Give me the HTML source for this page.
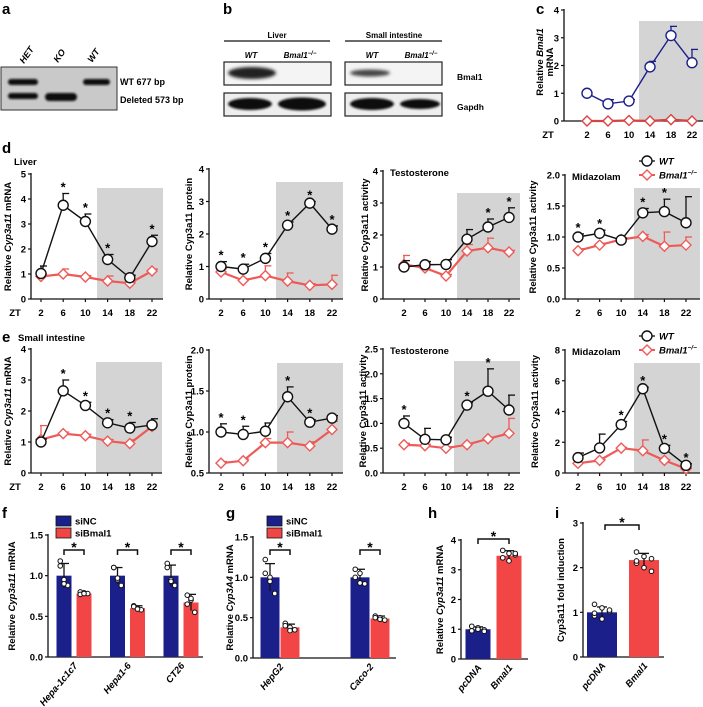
<!DOCTYPE html>
<html><head><meta charset="utf-8">
<style>
html,body{margin:0;padding:0;background:#fff;}
svg{display:block;font-family:"Liberation Sans",Arial,sans-serif;}
text{font-weight:bold;}
</style></head>
<body>
<svg id="fig" width="703" height="707" viewBox="0 0 703 707" xmlns="http://www.w3.org/2000/svg">
<defs>
<filter id="blur1" x="-20%" y="-50%" width="140%" height="200%"><feGaussianBlur stdDeviation="1.6"/></filter>
<filter id="blur2" x="-20%" y="-50%" width="140%" height="200%"><feGaussianBlur stdDeviation="1"/></filter>
</defs>
<!-- Panel a -->
<g>
<text x="2" y="14" font-size="15">a</text>
<text transform="translate(24,64) rotate(-55)" font-size="9" font-style="italic">HET</text>
<text transform="translate(58,63) rotate(-55)" font-size="9" font-style="italic">KO</text>
<text transform="translate(92,63) rotate(-55)" font-size="9" font-style="italic">WT</text>
<rect x="1" y="67" width="116" height="43" fill="#c9c9c9" stroke="#333" stroke-width="1"/>
<rect x="8" y="79" width="30" height="6" rx="3" fill="#111" filter="url(#blur2)"/>
<rect x="8" y="93" width="30" height="6" rx="3" fill="#111" filter="url(#blur2)"/>
<rect x="45" y="93" width="32" height="8" rx="4" fill="#111" filter="url(#blur2)"/>
<rect x="83" y="79" width="27" height="6" rx="3" fill="#111" filter="url(#blur2)"/>
<text x="120" y="85" font-size="9">WT 677 bp</text>
<text x="120" y="103" font-size="9">Deleted 573 bp</text>
</g>
<!-- Panel b -->
<g>
<text x="223" y="14" font-size="15">b</text>
<text x="277" y="38" font-size="8" text-anchor="middle">Liver</text>
<line x1="224" y1="41" x2="330" y2="41" stroke="#111" stroke-width="1.2"/>
<text x="394" y="38" font-size="8" text-anchor="middle">Small intestine</text>
<line x1="345" y1="41" x2="442" y2="41" stroke="#111" stroke-width="1.2"/>
<text x="251" y="58" font-size="8" font-style="italic" text-anchor="middle">WT</text>
<text x="300" y="58" font-size="8" font-style="italic" text-anchor="middle">Bmal1<tspan font-size="6" dy="-3">−/−</tspan></text>
<text x="372" y="58" font-size="8" font-style="italic" text-anchor="middle">WT</text>
<text x="421" y="58" font-size="8" font-style="italic" text-anchor="middle">Bmal1<tspan font-size="6" dy="-3">−/−</tspan></text>
<rect x="224" y="62" width="107" height="23" fill="#f4f4f4" stroke="#222" stroke-width="1.2"/>
<ellipse cx="252" cy="73" rx="24" ry="6" fill="#222" filter="url(#blur1)"/>
<rect x="345" y="62" width="97" height="23" fill="#f4f4f4" stroke="#222" stroke-width="1.2"/>
<ellipse cx="370" cy="73" rx="20" ry="3.5" fill="#444" filter="url(#blur1)"/>
<rect x="224" y="93" width="107" height="23" fill="#eee" stroke="#222" stroke-width="1.2"/>
<ellipse cx="250" cy="104" rx="22" ry="6" fill="#111" filter="url(#blur2)"/>
<ellipse cx="302" cy="104" rx="24" ry="6.5" fill="#111" filter="url(#blur2)"/>
<rect x="345" y="93" width="97" height="23" fill="#eee" stroke="#222" stroke-width="1.2"/>
<ellipse cx="372" cy="104" rx="22" ry="6" fill="#111" filter="url(#blur2)"/>
<ellipse cx="420" cy="104" rx="20" ry="5" fill="#111" filter="url(#blur2)"/>
<text x="457" y="80" font-size="8.5">Bmal1</text>
<text x="457" y="110" font-size="8.5">Gapdh</text>
</g>
<g id="charts"></g>
</svg>
<script>
// ---------------- data ----------------
const ztLabels = [2, 6, 10, 14, 18, 22];
// panel c
const cTicks = [0, 1, 2, 3, 4];
const cWT = [1.0, 0.62, 0.72, 1.95, 3.08, 2.1];
const cWTerr = [0, 0.15, 0.05, 0.2, 0.33, 0.48];
const cKO = [0, 0, 0.02, 0, 0.05, 0];
const cKOerr = [0, 0, 0, 0, 0, 0];
// panel d
const d1Ticks = [0, 1, 2, 3, 4, 5];
const d1WT = [1.02, 3.75, 3.1, 1.58, 0.85, 2.3];
const d1WTerr = [0.3, 0.47, 0.3, 0.2, 0.1, 0.25];
const d1KO = [0.9, 1.0, 0.88, 0.72, 0.63, 1.12];
const d1KOerr = [0.1, 0.2, 0.05, 0.2, 0.05, 0.08];
const d1Stars = [false, true, true, true, false, true];
const d2Ticks = [0, 1, 2, 3, 4];
const d2WT = [1.0, 0.92, 1.25, 2.27, 2.95, 2.15];
const d2WTerr = [0.15, 0.15, 0.15, 0.1, 0.05, 0.1];
const d2KO = [0.83, 0.57, 0.72, 0.55, 0.42, 0.45];
const d2KOerr = [0.1, 0.05, 0.3, 0.25, 0.05, 0.28];
const d2Stars = [true, true, true, true, true, true];
const d3Ticks = [0, 1, 2, 3, 4];
const d3WT = [1.0, 1.07, 1.08, 1.87, 2.25, 2.55];
const d3WTerr = [0.2, 0.1, 0.15, 0.3, 0.25, 0.3];
const d3KO = [1.08, 0.97, 0.72, 1.5, 1.6, 1.47];
const d3KOerr = [0.28, 0.2, 0.05, 0.2, 0.3, 0.05];
const d3Stars = [false, false, false, false, true, true];
const d4Ticks = [0, 0.5, 1.0, 1.5, 2.0];
const d4WT = [1.0, 1.06, 0.95, 1.39, 1.41, 1.23];
const d4WTerr = [0.05, 0.05, 0.03, 0.07, 0.2, 0.42];
const d4KO = [0.78, 0.87, 0.96, 1.01, 0.85, 0.87];
const d4KOerr = [0.03, 0.03, 0.03, 0.03, 0.23, 0.13];
const d4Stars = [true, true, false, true, true, false];
// panel e
const e1Ticks = [0, 1, 2, 3, 4];
const e1WT = [1.0, 2.65, 2.18, 1.62, 1.45, 1.55];
const e1WTerr = [0.1, 0.35, 0.1, 0.1, 0.18, 0.2];
const e1KO = [1.08, 1.27, 1.2, 1.03, 0.95, 1.5];
const e1KOerr = [0.45, 0.05, 0.05, 0.05, 0.12, 0.05];
const e1Stars = [false, true, true, true, true, false];
const e2Ticks = [0.5, 1.0, 1.5, 2.0];
const e2WT = [1.0, 0.97, 1.01, 1.43, 1.12, 1.17];
const e2WTerr = [0.1, 0.1, 0.1, 0.12, 0.03, 0.03];
const e2KO = [0.62, 0.65, 0.87, 0.87, 0.83, 1.03];
const e2KOerr = [0.02, 0.02, 0.05, 0.13, 0.05, 0.1];
const e2Stars = [true, true, false, true, true, false];
const e3Ticks = [0, 0.5, 1.0, 1.5, 2.0, 2.5];
const e3WT = [1.0, 0.68, 0.67, 1.37, 1.65, 1.27];
const e3WTerr = [0.15, 0.22, 0.05, 0.05, 0.45, 0.3];
const e3KO = [0.57, 0.55, 0.5, 0.57, 0.69, 0.8];
const e3KOerr = [0.03, 0.03, 0.03, 0.03, 0.03, 0.3];
const e3Stars = [true, false, false, true, true, false];
const e4Ticks = [0, 2, 4, 6, 8];
const e4WT = [1.0, 1.63, 3.15, 5.48, 1.6, 0.5];
const e4WTerr = [0.3, 0.9, 0.2, 0.1, 0.2, 0.1];
const e4KO = [0.63, 0.82, 1.62, 1.45, 0.82, 0.28];
const e4KOerr = [0.05, 0.05, 0.05, 0.7, 0.05, 0.05];
const e4Stars = [false, false, true, true, true, true];
// panel f
const fCategories = ['Hepa-1c1c7', 'Hepa1-6', 'CT26'];
const fTicks = [0, 0.5, 1.0, 1.5];
const fNC = [1.0, 1.0, 1.0];
const fNCerr = [0.15, 0.1, 0.13];
const fBm = [0.78, 0.6, 0.67];
const fBmerr = [0.02, 0.03, 0.1];
const fNCdots = [[1.18, 0.95, 0.88, 1.12, 0.9], [1.1, 0.95, 0.88, 1.1, 0.97], [1.15, 0.95, 0.88, 1.1, 0.93]];
const fBmdots = [[0.8, 0.79, 0.78, 0.77, 0.78], [0.63, 0.6, 0.58, 0.62, 0.59], [0.76, 0.7, 0.55, 0.65, 0.72]];
// panel g
const gCategories = ['HepG2', 'Caco-2'];
const gTicks = [0, 0.5, 1.0, 1.5];
const gNC = [1.0, 1.0];
const gNCerr = [0.17, 0.1];
const gBm = [0.38, 0.49];
const gBmerr = [0.04, 0.03];
const gNCdots = [[1.22, 1.0, 0.8, 1.05, 0.95], [1.1, 1.05, 0.92, 1.0, 0.93]];
const gBmdots = [[0.43, 0.38, 0.35, 0.4, 0.34], [0.52, 0.5, 0.47, 0.5, 0.48]];
// panel h
const hCategories = ['pcDNA', 'Bmal1'];
const hTicks = [0, 1, 2, 3, 4];
const hVals = [1.0, 3.47];
const hErr = [0.08, 0.17];
const hDots = [[1.1, 1.05, 0.98, 0.95, 1.0, 0.93], [3.65, 3.55, 3.5, 3.4, 3.3, 3.55]];
// panel i
const iCategories = ['pcDNA', 'Bmal1'];
const iTicks = [0, 1, 2, 3];
const iVals = [1.0, 2.17];
const iErr = [0.12, 0.15];
const iDots = [[1.18, 1.1, 1.02, 0.92, 0.85, 1.05, 0.98], [2.35, 2.25, 2.2, 2.1, 2.0, 1.92, 2.15]];

// ---------------- drawing ----------------
const NS = 'http://www.w3.org/2000/svg';
const root = document.getElementById('charts');
function mk(tag, attrs, parent, txt) {
  const el = document.createElementNS(NS, tag);
  for (const k in attrs) el.setAttribute(k, attrs[k]);
  if (txt !== undefined) el.textContent = txt;
  (parent || root).appendChild(el);
  return el;
}
const RED = '#ee5a57';
const NAVY = '#1b1f8a';
const BARRED = '#f24545';

function lineChart(name, o) {
  const g = mk('g', {});
  
  
  const n = ztLabels.length;
  const xs = i => o.x2 + (o.x22 - o.x2) * i / (n - 1);
  const ys = v => o.y0 - (v - o.vmin) / (o.vmax - o.vmin) * (o.y0 - o.yTop);
  const sh = mk('rect', {x: o.sx1, y: o.sTop, width: o.sx2 - o.sx1, height: o.y0 - o.sTop, fill: '#d4d4d4'}, g);
  
  
  const ax = mk('g', {}, g);
  
  
  mk('line', {x1: o.ax, y1: o.yTop - 1, x2: o.ax, y2: o.y0, stroke: '#111', 'stroke-width': 1.3}, ax);
  mk('line', {x1: o.ax, y1: o.y0, x2: o.sx2, y2: o.y0, stroke: '#111', 'stroke-width': 1.3}, ax);
  o.ticks.forEach(t => {
    const y = ys(t);
    mk('line', {x1: o.ax - 3, y1: y, x2: o.ax, y2: y, stroke: '#111', 'stroke-width': 1.2}, ax);
    const lb = mk('text', {x: o.ax - 5, y: y + 3.5, 'font-size': 9.5, 'text-anchor': 'end'}, ax, o.fmt ? t.toFixed(1) : String(t));
    
    
  });
  ztLabels.forEach((z, i) => {
    const x = xs(i);
    mk('line', {x1: x, y1: o.y0, x2: x, y2: o.y0 + 3, stroke: '#111', 'stroke-width': 1.2}, ax);
    const lb = mk('text', {x: x, y: o.y0 + 17, 'font-size': 9.5, 'text-anchor': 'middle'}, ax, String(z));
    
    
  });
  if (o.zt) mk('text', {x: o.ax - 16, y: o.y0 + 17, 'font-size': 9.5, 'text-anchor': 'middle'}, ax, 'ZT');
  const tt = mk('text', {transform: `translate(${o.tx},${o.tcy || (o.yTop + o.y0) / 2}) rotate(-90)`, 'font-size': 9.5, 'text-anchor': 'middle'}, g);
  
  
  o.title.forEach(p => { mk('tspan', p.i ? {'font-style': 'italic'} : {}, tt, p.t); });
  if (o.title2) mk('text', {transform: `translate(${o.tx + 10},${o.tcy || (o.yTop + o.y0) / 2}) rotate(-90)`, 'font-size': 9.5, 'text-anchor': 'middle'}, g, o.title2);
  if (o.sub) {
    const st = mk('text', {x: o.ax + 7, y: o.yTop + 5, 'font-size': 9.5}, g, o.sub);
    
    
  }
  const koC = o.koColor || RED;
  const kg = mk('g', {}, g);
  
  
  o.ko.forEach((v, i) => {
    if (o.koErr[i] > 0) {
      const y1 = ys(v), y2 = ys(v + o.koErr[i]);
      mk('line', {x1: xs(i), y1: y1, x2: xs(i), y2: y2, stroke: koC, 'stroke-width': 1.3}, kg);
      mk('line', {x1: xs(i) - 1, y1: y2, x2: xs(i) + 6, y2: y2, stroke: koC, 'stroke-width': 1.3}, kg);
    }
  });
  mk('polyline', {points: o.ko.map((v, i) => xs(i) + ',' + ys(v)).join(' '), fill: 'none', stroke: koC, 'stroke-width': 2.2}, kg);
  o.ko.forEach((v, i) => {
    const x = xs(i), y = ys(v), r = 5;
    const m = mk('polygon', {points: `${x},${y - r} ${x + r},${y} ${x},${y + r} ${x - r},${y}`, fill: '#fff', stroke: koC, 'stroke-width': 1.4}, kg);
    
    
  });
  const wc = o.wtColor || '#111';
  const wg = mk('g', {}, g);
  
  
  o.wt.forEach((v, i) => {
    if (o.wtErr[i] > 0) {
      const y1 = ys(v), y2 = ys(v + o.wtErr[i]);
      mk('line', {x1: xs(i), y1: y1, x2: xs(i), y2: y2, stroke: wc, 'stroke-width': 1.3}, wg);
      mk('line', {x1: xs(i) - 1, y1: y2, x2: xs(i) + 6, y2: y2, stroke: wc, 'stroke-width': 1.3}, wg);
    }
  });
  mk('polyline', {points: o.wt.map((v, i) => xs(i) + ',' + ys(v)).join(' '), fill: 'none', stroke: wc, 'stroke-width': 1.4}, wg);
  o.wt.forEach((v, i) => {
    const m = mk('circle', {cx: xs(i), cy: ys(v), r: 5, fill: '#fff', stroke: wc, 'stroke-width': 1.4}, wg);
    
    
    if (o.stars && o.stars[i]) {
      const s = mk('text', {x: xs(i), y: ys(v + o.wtErr[i]) - 2, 'font-size': 13, 'text-anchor': 'middle'}, wg, '*');
      
      
    }
  });
}

function legend(x, y) {
  const g = mk('g', {});
  
  
  mk('line', {x1: x - 8, y1: y, x2: x + 8, y2: y, stroke: '#111', 'stroke-width': 1.3}, g);
  mk('circle', {cx: x, cy: y, r: 5, fill: '#fff', stroke: '#111', 'stroke-width': 1.4}, g);
  const t1 = mk('text', {x: x + 12, y: y + 3.5, 'font-size': 9.5, 'font-style': 'italic'}, g, 'WT');
  
  
  const y2 = y + 14;
  mk('line', {x1: x - 8, y1: y2, x2: x + 8, y2: y2, stroke: RED, 'stroke-width': 2}, g);
  mk('polygon', {points: `${x},${y2 - 5} ${x + 5},${y2} ${x},${y2 + 5} ${x - 5},${y2}`, fill: '#fff', stroke: RED, 'stroke-width': 1.4}, g);
  const t2 = mk('text', {x: x + 12, y: y2 + 3.5, 'font-size': 9.5, 'font-style': 'italic'}, g);
  
  
  mk('tspan', {}, t2, 'Bmal1');
  mk('tspan', {'font-size': 6.5, dy: -4}, t2, '−/−');
}

// Panel c
mk('text', {x: 536, y: 14, 'font-size': 15}, root, 'c');
lineChart('chart-c-bmal1', {ax: 564, x2: 587, x22: 692, yTop: 10, y0: 121, vmin: 0, vmax: 4, ticks: cTicks,
  sx1: 639, sx2: 703, sTop: 21, wt: cWT, wtErr: cWTerr, ko: cKO, koErr: cKOerr, wtColor: NAVY, koColor: '#d9423f',
  tx: 543, tcy: 62, title: [{t: 'Relative '}, {t: 'Bmal1', i: 1}], title2: 'mRNA', zt: true});

// Panel d
mk('text', {x: 2, y: 153, 'font-size': 15}, root, 'd');
mk('text', {x: 14, y: 165, 'font-size': 9.5}, root, 'Liver');
lineChart('chart-d-liver-mrna', {ax: 31, x2: 41, x22: 152, yTop: 174, y0: 299, vmin: 0, vmax: 5, ticks: d1Ticks,
  sx1: 97, sx2: 163, sTop: 188, wt: d1WT, wtErr: d1WTerr, ko: d1KO, koErr: d1KOerr, stars: d1Stars,
  tx: 11, title: [{t: 'Relative '}, {t: 'Cyp3a11', i: 1}, {t: ' mRNA'}], zt: true});
lineChart('chart-d-liver-protein', {ax: 209, x2: 221, x22: 332, yTop: 169, y0: 299, vmin: 0, vmax: 4, ticks: d2Ticks,
  sx1: 276, sx2: 343, sTop: 182, wt: d2WT, wtErr: d2WTerr, ko: d2KO, koErr: d2KOerr, stars: d2Stars,
  tx: 192, title: [{t: 'Relative Cyp3a11 protein'}]});
lineChart('chart-d-liver-testosterone', {ax: 383, x2: 404, x22: 509, yTop: 171, y0: 299, vmin: 0, vmax: 4, ticks: d3Ticks,
  sx1: 457, sx2: 520, sTop: 193, wt: d3WT, wtErr: d3WTerr, ko: d3KO, koErr: d3KOerr, stars: d3Stars,
  tx: 368, title: [{t: 'Relative Cyp3a11 activity'}], sub: 'Testosterone'});
lineChart('chart-d-liver-midazolam', {ax: 565, x2: 578, x22: 686, yTop: 175, y0: 299, vmin: 0, vmax: 2, ticks: d4Ticks, fmt: true,
  sx1: 634, sx2: 700, sTop: 188, wt: d4WT, wtErr: d4WTerr, ko: d4KO, koErr: d4KOerr, stars: d4Stars,
  tx: 536, title: [{t: 'Relative Cyp3a11 activity'}], sub: 'Midazolam'});
legend(647, 161);

// Panel e
mk('text', {x: 2, y: 342, 'font-size': 15}, root, 'e');
mk('text', {x: 18, y: 341, 'font-size': 9.5}, root, 'Small intestine');
lineChart('chart-e-intestine-mrna', {ax: 31, x2: 41, x22: 152, yTop: 349, y0: 473, vmin: 0, vmax: 4, ticks: e1Ticks,
  sx1: 96, sx2: 162, sTop: 362, wt: e1WT, wtErr: e1WTerr, ko: e1KO, koErr: e1KOerr, stars: e1Stars,
  tx: 11, title: [{t: 'Relative '}, {t: 'Cyp3a11', i: 1}, {t: ' mRNA'}], zt: true});
lineChart('chart-e-intestine-protein', {ax: 209, x2: 221, x22: 332, yTop: 350, y0: 473, vmin: 0.5, vmax: 2, ticks: e2Ticks, fmt: true,
  sx1: 277, sx2: 343, sTop: 363, wt: e2WT, wtErr: e2WTerr, ko: e2KO, koErr: e2KOerr, stars: e2Stars,
  tx: 192, title: [{t: 'Relative Cyp3a11 protein'}]});
lineChart('chart-e-intestine-testosterone', {ax: 383, x2: 404, x22: 509, yTop: 349, y0: 473, vmin: 0, vmax: 2.5, ticks: e3Ticks, fmt: true,
  sx1: 454, sx2: 520, sTop: 361, wt: e3WT, wtErr: e3WTerr, ko: e3KO, koErr: e3KOerr, stars: e3Stars,
  tx: 366, title: [{t: 'Relative Cyp3a11 activity'}], sub: 'Testosterone'});
lineChart('chart-e-intestine-midazolam', {ax: 565, x2: 578, x22: 686, yTop: 350, y0: 473, vmin: 0, vmax: 8, ticks: e4Ticks,
  sx1: 634, sx2: 700, sTop: 363, wt: e4WT, wtErr: e4WTerr, ko: e4KO, koErr: e4KOerr, stars: e4Stars,
  tx: 538, title: [{t: 'Relative Cyp3a11 activity'}], sub: 'Midazolam'});
legend(647, 336);

// ---------- bar charts ----------
function barAxes(g, o) {
  const ys = v => o.y0 - (v / o.vmax) * (o.y0 - o.yTop);
  mk('line', {x1: o.ax, y1: o.yTop - 1, x2: o.ax, y2: o.y0, stroke: '#111', 'stroke-width': 1.3}, g);
  mk('line', {x1: o.ax, y1: o.y0, x2: o.xEnd, y2: o.y0, stroke: '#111', 'stroke-width': 1.3}, g);
  o.ticks.forEach(t => {
    const y = ys(t);
    mk('line', {x1: o.ax - 3, y1: y, x2: o.ax, y2: y, stroke: '#111', 'stroke-width': 1.2}, g);
    const lb = mk('text', {x: o.ax - 5, y: y + 3.5, 'font-size': 9.5, 'text-anchor': 'end'}, g, o.fmt ? t.toFixed(1) : String(t));
    
    
  });
  const tt = mk('text', {transform: `translate(${o.tx},${(o.yTop + o.y0) / 2}) rotate(-90)`, 'font-size': 9.5, 'text-anchor': 'middle'}, g);
  
  
  o.title.forEach(p => mk('tspan', p.i ? {'font-style': 'italic'} : {}, tt, p.t));
  return ys;
}
function bar(g, ys, y0, cx, w, v, e, color, dots, name) {
  const r = mk('rect', {x: cx - w / 2, y: ys(v), width: w, height: y0 - ys(v), fill: color}, g);
  
  
  const ye = ys(v + e), ye2 = ys(v - e);
  mk('line', {x1: cx, y1: ye, x2: cx, y2: ye2, stroke: '#111', 'stroke-width': 1.3}, g);
  mk('line', {x1: cx - 5, y1: ye, x2: cx + 5, y2: ye, stroke: '#111', 'stroke-width': 1.3}, g);
  dots.forEach((d, k) => {
    const off = ((k % 3) - 1) * (w / 4);
    mk('circle', {cx: cx + off, cy: ys(d), r: 2.3, fill: '#fff', stroke: '#111', 'stroke-width': 1}, g);
  });
}
function bracket(g, x1, x2, y) {
  mk('polyline', {points: `${x1},${y + 5} ${x1},${y} ${x2},${y} ${x2},${y + 5}`, fill: 'none', stroke: '#111', 'stroke-width': 1.5}, g);
  const s = mk('text', {x: (x1 + x2) / 2, y: y + 2, 'font-size': 14, 'text-anchor': 'middle'}, g, '*');
  
  
}
function xLabel(g, x, y, t) {
  const lb = mk('text', {transform: `translate(${x + 4},${y}) rotate(-50)`, 'font-size': 9.5, 'font-style': 'italic', 'text-anchor': 'end'}, g, t);
  
  
}
function barLegend(g, x, y) {
  mk('rect', {x: x, y: y - 5, width: 15, height: 10, fill: NAVY, stroke: '#111', 'stroke-width': 0.8}, g);
  const a = mk('text', {x: x + 19, y: y + 3.5, 'font-size': 9.5}, g, 'siNC');
  
  
  mk('rect', {x: x, y: y + 7, width: 15, height: 10, fill: BARRED, stroke: '#111', 'stroke-width': 0.8}, g);
  const b = mk('text', {x: x + 19, y: y + 15.5, 'font-size': 9.5}, g, 'siBmal1');
  
  
}

// Panel f
(function () {
  mk('text', {x: 2, y: 518, 'font-size': 15}, root, 'f');
  const g = mk('g', {});
  
  
  const o = {ax: 48, xEnd: 203, yTop: 535, y0: 657, vmax: 1.5, ticks: fTicks, fmt: true, tx: 15,
    title: [{t: 'Relative '}, {t: 'Cyp3a11', i: 1}, {t: ' mRNA'}]};
  const ys = barAxes(g, o);
  fCategories.forEach((c, i) => {
    const gc = 74 + i * 53.5;
    bar(g, ys, o.y0, gc - 10, 15, fNC[i], fNCerr[i], NAVY, fNCdots[i], 'bar-sinc');
    bar(g, ys, o.y0, gc + 10, 15, fBm[i], fBmerr[i], BARRED, fBmdots[i], 'bar-sibmal1');
    bracket(g, gc - 10, gc + 10, 550);
    xLabel(g, gc, o.y0 + 9, c);
  });
  barLegend(g, 56, 521);
})();

// Panel g
(function () {
  mk('text', {x: 226, y: 518, 'font-size': 15}, root, 'g');
  const g = mk('g', {});
  
  
  const o = {ax: 253, xEnd: 396, yTop: 537, y0: 658, vmax: 1.5, ticks: gTicks, fmt: true, tx: 233,
    title: [{t: 'Relative '}, {t: 'Cyp3A4', i: 1}, {t: ' mRNA'}]};
  const ys = barAxes(g, o);
  gCategories.forEach((c, i) => {
    const gc = 280 + i * 90;
    bar(g, ys, o.y0, gc - 10, 19, gNC[i], gNCerr[i], NAVY, gNCdots[i], 'bar-sinc');
    bar(g, ys, o.y0, gc + 10, 19, gBm[i], gBmerr[i], BARRED, gBmdots[i], 'bar-sibmal1');
    bracket(g, gc - 10, gc + 10, 550);
    xLabel(g, gc, o.y0 + 9, c);
  });
  barLegend(g, 267, 521);
})();

// Panel h
(function () {
  mk('text', {x: 428, y: 518, 'font-size': 15}, root, 'h');
  const g = mk('g', {});
  
  
  const o = {ax: 461, xEnd: 528, yTop: 540, y0: 659, vmax: 4, ticks: hTicks, tx: 443,
    title: [{t: 'Relative '}, {t: 'Cyp3a11', i: 1}, {t: ' mRNA'}]};
  const ys = barAxes(g, o);
  const cols = [NAVY, BARRED];
  hCategories.forEach((c, i) => {
    const cx = 478 + i * 31;
    bar(g, ys, o.y0, cx, 25, hVals[i], hErr[i], cols[i], hDots[i], 'bar-' + c.toLowerCase());
    xLabel(g, cx, o.y0 + 9, c);
  });
  bracket(g, 478, 509, 539);
})();

// Panel i
(function () {
  mk('text', {x: 555, y: 518, 'font-size': 15}, root, 'i');
  const g = mk('g', {});
  
  
  const o = {ax: 583, xEnd: 664, yTop: 523, y0: 657, vmax: 3, ticks: iTicks, tx: 564,
    title: [{t: 'Cyp3a11 fold induction'}]};
  const ys = barAxes(g, o);
  const cols = [NAVY, BARRED];
  iCategories.forEach((c, i) => {
    const cx = 602 + i * 42;
    bar(g, ys, o.y0, cx, 30, iVals[i], iErr[i], cols[i], iDots[i], 'bar-' + c.toLowerCase());
    xLabel(g, cx, o.y0 + 9, c);
  });
  bracket(g, 605, 639, 525);
})();
</script>
</body></html>
